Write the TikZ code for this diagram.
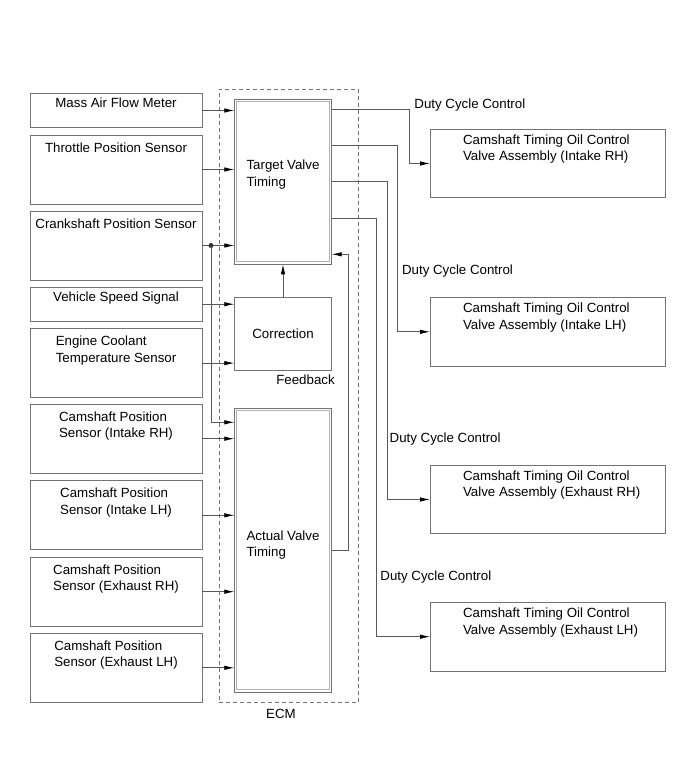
\documentclass[tikz,border=0pt]{standalone}
\usepackage{fontspec}
\setmainfont{Liberation Sans}
\usetikzlibrary{arrows.meta}

\begin{document}
\begin{tikzpicture}[x=1pt,y=-1pt,line width=0.8pt,
  font=\fontsize{13.3}{16.5}\selectfont,
  txt/.style={align=left,inner sep=0},
  sensor/.style={draw=black!55,minimum width=172,minimum height=69,inner sep=0,outer sep=0},
  valve/.style={draw=black!55,minimum width=235,minimum height=68.4,inner sep=0,outer sep=0},
  ctrlbox/.style={draw=black!55,minimum width=97.4,inner sep=0,outer sep=0},
  inner/.style={draw=black!30,line width=1pt},
  lbl/.style={label={[txt,anchor=north,yshift=-7]north:#1}},
  lbls/.style={label={[txt,anchor=north,yshift=-3.8]north:#1}},
  vlbl/.style={label={[txt,anchor=north west,xshift=32.7,yshift=-5]north west:#1}},
  sig/.style={draw=black!65,-{Latex[length=10pt,width=4.5pt,black]}}]
  \useasboundingbox (0,0) rectangle (693,759);
  % ECM
  \node[draw=black!55,dash pattern=on 4pt off 3pt,line width=0.7pt,minimum width=139.4,minimum height=613,inner sep=0,outer sep=0] (ecm) at (289,395.8) {};
  \node[txt] (ecmlbl) at (281,714) {ECM};
  % inputs
  \node[sensor,minimum height=34.4,lbls=Mass Air Flow Meter] (maf) at (116,110.5) {};
  \node[sensor,lbl=Throttle Position Sensor] (tps) at (116,169.5) {};
  \node[sensor,lbl=Crankshaft Position Sensor] (ckp) at (116,245.5) {};
  \node[sensor,minimum height=33.7,lbls=Vehicle Speed Signal] (spd) at (116,304.2) {};
  \node[sensor,lbl={Engine Coolant\\Temperature Sensor}] (ect) at (116,363.1) {};
  \node[sensor,lbl={Camshaft Position\\Sensor (Intake RH)}] (cmp1) at (116,438.7) {};
  \node[sensor,lbl={Camshaft Position\\Sensor (Intake LH)}] (cmp2) at (116,515.3) {};
  \node[sensor,lbl={Camshaft Position\\Sensor (Exhaust RH)}] (cmp3) at (116,591.7) {};
  \node[sensor,lbl={Camshaft Position\\Sensor (Exhaust LH)}] (cmp4) at (116,667.8) {};
  % ECM blocks
  \node[ctrlbox,minimum height=165,label={[txt,yshift=7]center:Target Valve\\Timing}] (tvt) at (283,181.8) {};
  \draw[inner] ([shift={(2.6,2.6)}]tvt.north west) rectangle ([shift={(-2.6,-2.6)}]tvt.south east);
  \node[ctrlbox,minimum height=72.7] (corr) at (283,333.7) {Correction};
  \node[ctrlbox,minimum height=284,label={[txt,yshift=5]center:Actual Valve\\Timing}] (avt) at (283,550.3) {};
  \draw[inner] ([shift={(2.6,2.6)}]avt.north west) rectangle ([shift={(-2.6,-2.6)}]avt.south east);
  \node[txt] (fb) at (305.5,380) {Feedback};
  % outputs
  \node[valve,vlbl={Camshaft Timing Oil Control\\Valve Assembly (Intake RH)}] (ocv1) at (547.5,163.5) {};
  \node[valve,vlbl={Camshaft Timing Oil Control\\Valve Assembly (Intake LH)}] (ocv2) at (547.5,331.8) {};
  \node[valve,vlbl={Camshaft Timing Oil Control\\Valve Assembly (Exhaust RH)}] (ocv3) at (547.5,499.5) {};
  \node[valve,vlbl={Camshaft Timing Oil Control\\Valve Assembly (Exhaust LH)}] (ocv4) at (547.5,636.7) {};
  \node[txt,anchor=base west] (duty1) at (414,108.1) {Duty Cycle Control};
  \node[txt,anchor=base west] (duty2) at (401.7,274.1) {Duty Cycle Control};
  \node[txt,anchor=base west] (duty3) at (389.3,442.1) {Duty Cycle Control};
  \node[txt,anchor=base west] (duty4) at (380,580.5) {Duty Cycle Control};
  % sensor signals
  \draw[sig] (maf.east) -- (maf.east -| tvt.west);
  \draw[sig] (tps.east) -- (tps.east -| tvt.west);
  \draw[sig] (ckp.east) -- (ckp.east -| tvt.west);
  \coordinate (tap) at ([xshift=9]ckp.east);
  \fill[black!80] (tap) circle (2.5pt);
  \draw[sig] (tap) |- ([yshift=-14]avt.north west);
  \draw[sig] (spd.east) -- (spd.east -| corr.west);
  \draw[sig] (ect.east) -- (ect.east -| corr.west);
  \draw[sig] (cmp1.east) -- (cmp1.east -| avt.west);
  \draw[sig] (cmp2.east) -- (cmp2.east -| avt.west);
  \draw[sig] (cmp3.east) -- (cmp3.east -| avt.west);
  \draw[sig] (cmp4.east) -- (cmp4.east -| avt.west);
  % inside ECM
  \draw[sig] (corr.north) -- (tvt.south);
  \draw[sig] (avt.east) -- ++(16.6,0) |- ([yshift=10]tvt.south east);
  % duty outputs
  \draw[sig] ([yshift=-10]tvt.north east) -- ++(77.3,0) |- (ocv1.west);
  \draw[sig] ([yshift=-45.7]tvt.north east) -- ++(66,0) |- (ocv2.west);
  \draw[sig] ([yshift=-82.4]tvt.north east) -- ++(56,0) |- (ocv3.west);
  \draw[sig] ([yshift=-119]tvt.north east) -- ++(45,0) |- (ocv4.west);
\end{tikzpicture}
\end{document}
